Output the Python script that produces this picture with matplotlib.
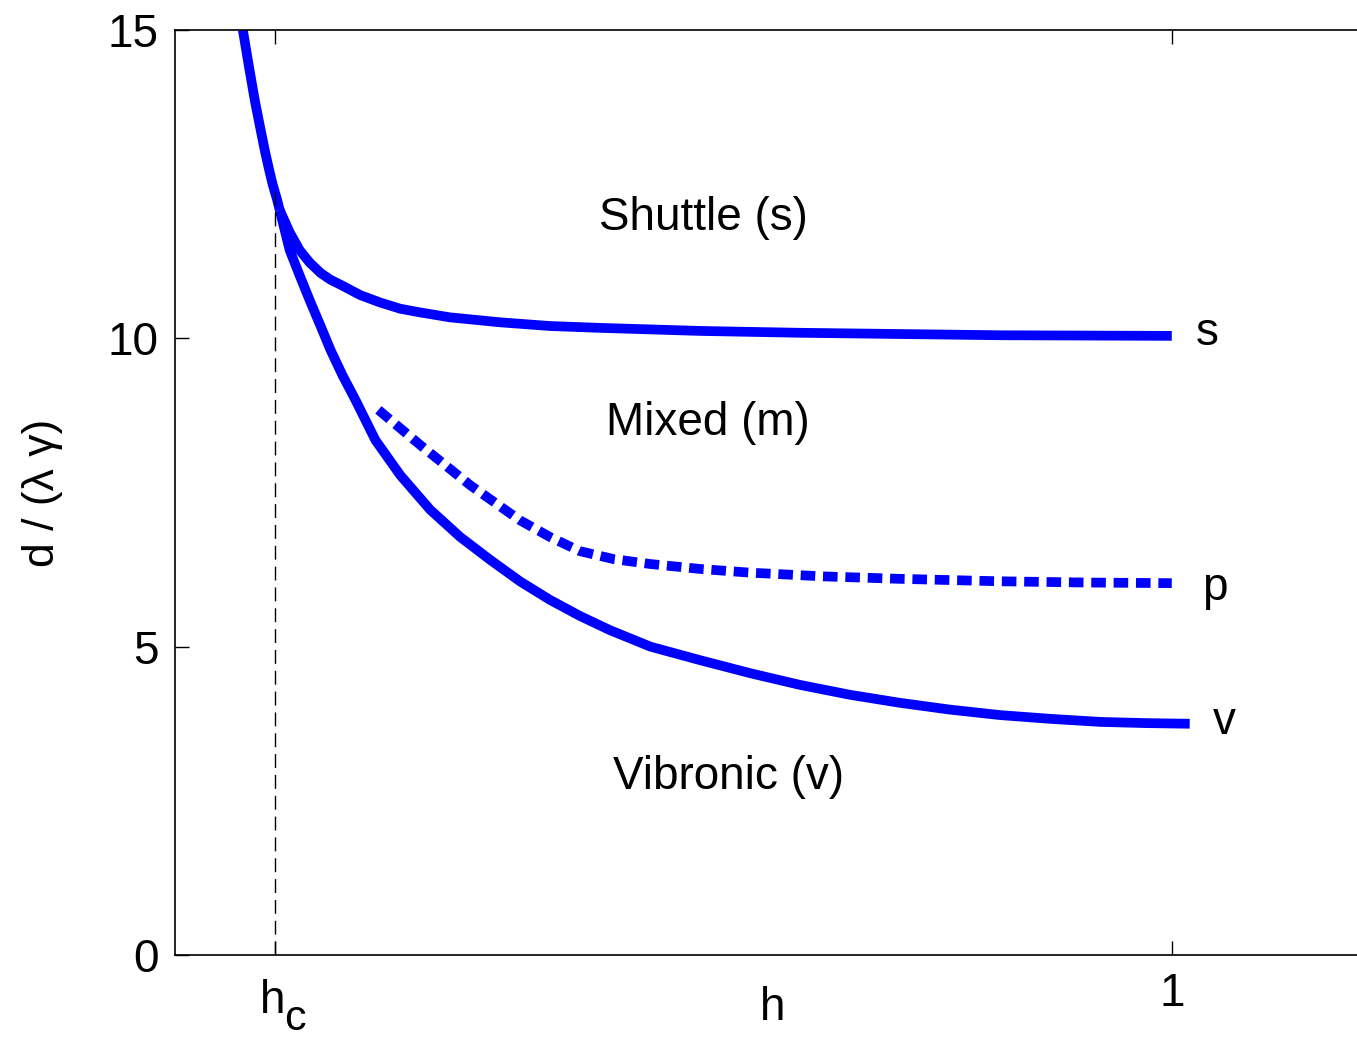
import matplotlib
matplotlib.use('Agg')
import matplotlib.pyplot as plt
from matplotlib.transforms import blended_transform_factory

plt.rcParams['font.family'] = ['Liberation Sans', 'DejaVu Sans']

# critical h and common steep branch
h_c = 0.1
top_x = [0.068, 0.074, 0.080, 0.085, 0.090, 0.094, 0.098, 0.102, 0.105]
top_y = [15.0, 14.42, 13.86, 13.45, 13.05, 12.76, 12.49, 12.27, 12.08]

# shuttle boundary (s)
s_x = [0.105, 0.115, 0.125, 0.135, 0.146, 0.156, 0.166, 0.186, 0.206, 0.226, 0.246,
       0.276, 0.326, 0.376, 0.426, 0.527, 0.627, 0.728, 0.828, 1.0]
s_y = [12.08, 11.72, 11.43, 11.23, 11.06, 10.95, 10.87, 10.70, 10.58, 10.48, 10.42,
       10.34, 10.26, 10.20, 10.17, 10.12, 10.09, 10.07, 10.05, 10.04]

# vibronic boundary (v)
v_x = [0.105, 0.115, 0.125, 0.135, 0.146, 0.156, 0.168, 0.181, 0.201, 0.226, 0.256,
       0.286, 0.316, 0.346, 0.376, 0.406, 0.436, 0.477, 0.527, 0.577, 0.627, 0.677,
       0.727, 0.777, 0.828, 0.878, 0.928, 0.975, 1.018]
v_y = [12.08, 11.43, 11.02, 10.62, 10.20, 9.81, 9.40, 9.0, 8.35, 7.78, 7.22,
       6.78, 6.41, 6.06, 5.76, 5.50, 5.27, 5.00, 4.78, 4.57, 4.38, 4.22,
       4.09, 3.98, 3.89, 3.83, 3.78, 3.76, 3.75]

# dashed boundary (p)
p_x = [0.204, 0.246, 0.296, 0.346, 0.376, 0.406, 0.440, 0.477, 0.527, 0.577,
       0.650, 0.727, 0.828, 0.914, 1.0]
p_y = [8.84, 8.27, 7.62, 7.05, 6.78, 6.55, 6.42, 6.34, 6.26, 6.20,
       6.14, 6.10, 6.06, 6.04, 6.03]

blue = '#0000ff'
fs = 33

fig = plt.figure(figsize=(13.57, 10.42), dpi=100)
ax = fig.add_axes([0.129, 0.0835, 0.8814, 0.8877])

ax.plot(top_x, top_y, color=blue, linewidth=7, solid_capstyle='butt', solid_joinstyle='round')
ax.plot(s_x, s_y, color=blue, linewidth=7, solid_capstyle='butt', solid_joinstyle='round')
ax.plot(v_x, v_y, color=blue, linewidth=7, solid_capstyle='butt', solid_joinstyle='round')
ax.plot(p_x, p_y, color=blue, linewidth=7, linestyle=(0, (1.5, 0.8)), dash_capstyle='butt')
ax.plot([h_c, h_c], [0, 12.4], color='k', linewidth=1, linestyle=(0, (10, 5)))

ax.text(0.530, 11.95, 'Shuttle (s)', fontsize=fs, ha='center', va='center')
ax.text(0.535, 8.63, 'Mixed (m)', fontsize=fs, ha='center', va='center')
ax.text(0.555, 2.89, 'Vibronic (v)', fontsize=fs, ha='center', va='center')
ax.text(1.036, 10.08, 's', fontsize=fs, ha='center', va='center')
ax.text(1.043, 5.95, 'p', fontsize=fs, ha='center', va='center')
ax.text(1.053, 3.78, 'v', fontsize=fs, ha='center', va='center')

ax.set_xlim(0, 1.2)
ax.set_ylim(0, 15)
ax.set_xticks([h_c, 1])
ax.set_xticklabels(['', '1'])
ax.set_yticks([0, 5, 10, 15])
ax.tick_params(direction='in', length=10, width=1, labelsize=fs, top=True, right=True, pad=12)

# h_c label with a low subscript
tr = blended_transform_factory(ax.transData, ax.transAxes)
ax.text(h_c - 0.002, -0.0625, 'h', fontsize=fs, ha='center', va='baseline', transform=tr)
ax.text(h_c + 0.020, -0.0815, 'c', fontsize=31, ha='center', va='baseline', transform=tr)

ax.set_xlabel('h', fontsize=fs, labelpad=-21)
ax.set_ylabel('d / (λ γ)', fontsize=32, labelpad=32)
for sp in ax.spines.values():
    sp.set_linewidth(1.2)

fig.savefig('out.png', dpi=100)
